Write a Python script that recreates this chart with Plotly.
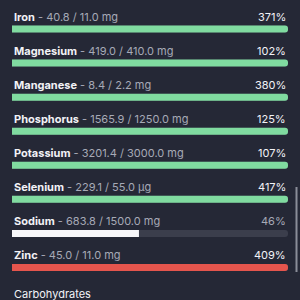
import plotly.graph_objects as go

names = ["Iron", "Magnesium", "Manganese", "Phosphorus", "Potassium", "Selenium", "Sodium", "Zinc"]
amounts = ["40.8", "419.0", "8.4", "1565.9", "3201.4", "229.1", "683.8", "45.0"]
targets = ["11.0", "410.0", "2.2", "1250.0", "3000.0", "55.0", "1500.0", "11.0"]
units = ["mg", "mg", "mg", "mg", "mg", "µg", "mg", "mg"]
percents = [371, 102, 380, 125, 107, 417, 46, 409]
status = ["ok", "ok", "ok", "ok", "ok", "ok", "low", "over"]
next_section = "Carbohydrates"

BG = "#252836"
TRACK = "#3b3e4c"
COLORS = {"ok": "#80dba0", "low": "#f7f7fa", "over": "#e5554d"}
FONT = "Inter"

idx = list(range(len(names)))
fill = [min(p, 100) for p in percents]

fig = go.Figure()
fig.add_trace(go.Bar(
    x=[100] * len(names), y=idx, orientation="h", width=0.205,
    marker=dict(color=TRACK, cornerradius=4, line=dict(width=0)),
    hoverinfo="skip", showlegend=False))
fig.add_trace(go.Bar(
    x=fill, y=idx, orientation="h", width=0.205,
    marker=dict(color=[COLORS[s] for s in status], cornerradius=4, line=dict(width=0)),
    hoverinfo="skip", showlegend=False))

for i, (n, a, t, u, p, s) in enumerate(zip(names, amounts, targets, units, percents, status)):
    fig.add_annotation(
        x=0, y=i - 0.36, xref="x", yref="y", xanchor="left", yanchor="middle",
        text=f"<b>{n}</b><span style='color:#a7aab6'> - {a} / {t} {u}</span>",
        showarrow=False, font=dict(family=FONT, size=11, color="#f2f2f6"))
    fig.add_annotation(
        x=100, y=i - 0.36, xref="x", yref="y", xanchor="right", yanchor="middle",
        text=f"{p}%", showarrow=False,
        font=dict(family=FONT, size=11, color="#a7aab6" if s == "low" else "#f2f2f6"))

fig.add_annotation(
    x=0, y=len(names) - 0.23, xref="x", yref="y", xanchor="left", yanchor="middle",
    text=next_section, showarrow=False, font=dict(family=FONT, size=11, color="#f2f2f6"))

# scrollbar
fig.add_shape(type="line", xref="paper", yref="paper", x0=296.5 / 300, x1=296.5 / 300,
              y0=1 - 187 / 300, y1=1 - 272 / 300, line=dict(color="#8a8d98", width=2))

fig.update_layout(
    width=300, height=300, margin=dict(l=0, r=0, t=0, b=0),
    paper_bgcolor=BG, plot_bgcolor=BG, barmode="overlay",
    xaxis=dict(range=[0, 100], domain=[12 / 300, 288 / 300], visible=False, fixedrange=True),
    yaxis=dict(range=[(300 - 29) / 34.07, -29 / 34.07], visible=False, fixedrange=True),
)
fig.write_html("out.html")
